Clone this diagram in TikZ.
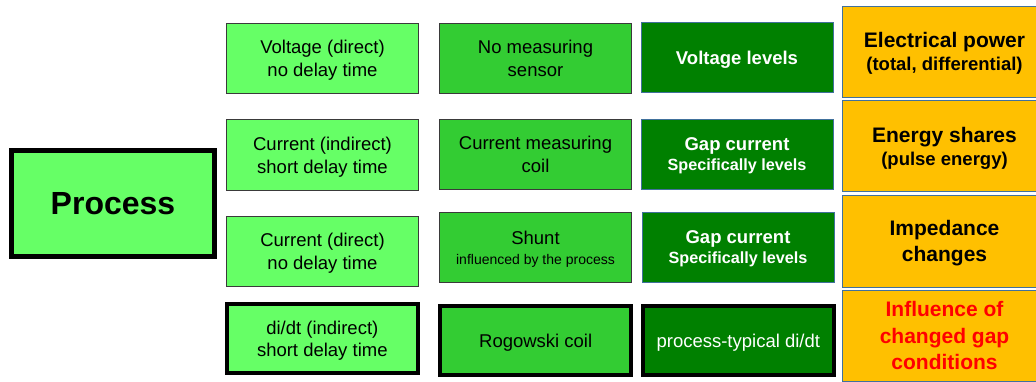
\documentclass[tikz,border=0pt]{standalone}
\usepackage{fontspec}
\setmainfont{Liberation Sans}
\definecolor{lgreen}{HTML}{66FF66}
\definecolor{mgreen}{HTML}{33CC33}
\definecolor{dgreen}{HTML}{008000}
\definecolor{orng}{HTML}{FFC000}
\definecolor{gborder}{HTML}{3A3A3A}
\definecolor{bborder}{HTML}{41719C}
\definecolor{redtxt}{HTML}{FF0000}
\tikzset{
  cell/.style={rectangle, inner sep=0pt, align=center, minimum width=192pt, minimum height=70pt,
    text depth=0pt, font=\fontsize{18.5}{22.7}\selectfont},
  col1/.style={cell, fill=lgreen, draw=gborder, line width=1pt},
  col2/.style={cell, fill=mgreen, draw=gborder, line width=1pt},
  col3/.style={cell, fill=dgreen, draw=bborder, line width=1pt, text=white, font=\fontsize{18.5}{20}\selectfont\bfseries},
  col4/.style={cell, fill=orng, draw=bborder, line width=1pt, minimum width=205pt, minimum height=91pt,
    font=\fontsize{18.5}{23.4}\selectfont\bfseries},
  thick4/.style={draw=black, line width=4pt, minimum width=191pt, minimum height=69pt},
  big/.style={font=\fontsize{21}{26.5}\selectfont\bfseries}
}
\begin{document}
\begin{tikzpicture}[x=1pt,y=-1pt]
\useasboundingbox (0,0) rectangle (1036,381);
% Process
\node[rectangle, fill=lgreen, draw=black, line width=5pt, minimum width=203pt, minimum height=106pt,
  text depth=0pt, font=\fontsize{32}{36}\selectfont\bfseries] (proc) at (113,203.5) {Process};
% column 1
\node[col1] (a1) at (322.5,58.5) {Voltage (direct)\\no delay time};
\node[col1, minimum height=71pt] (a2) at (322.5,155) {Current (indirect)\\short delay time};
\node[col1] (a3) at (322.5,251.5) {Current (direct)\\no delay time};
\node[col1, thick4] (a4) at (322.3,338.7) {di/dt (indirect)\\short delay time};
% column 2
\node[col2] (b1) at (535.5,58.5) {No measuring\\sensor};
\node[col2] (b2) at (535.5,154.5) {Current measuring\\coil};
\node[col2, font=\fontsize{18.5}{20}\selectfont] (b3) at (535.5,247.5) {Shunt\\{\fontsize{14}{16}\selectfont influenced by the process}};
\node[col2, thick4] (b4) at (535.7,340.8) {Rogowski coil};
% column 3
\node[col3] (c1) at (737,57.5) {Voltage levels};
\node[col3] (c2) at (737,154.5) {Gap current\\{\fontsize{16.2}{18}\selectfont Specifically levels}};
\node[col3] (c3) at (738,247.5) {Gap current\\{\fontsize{16.2}{18}\selectfont Specifically levels}};
\node[col3, thick4, font=\fontsize{18.5}{22.7}\selectfont] (c4) at (738.3,340.8) {process-typical di/dt};
% column 4
\node[col4] (d1) at (944.5,51.5) {{\fontsize{21}{24}\selectfont Electrical power}\\(total, differential)};
\node[col4] (d2) at (944.5,146.3) {{\fontsize{21}{24}\selectfont Energy shares}\\(pulse energy)};
\node[col4, big, minimum height=92pt] (d3) at (944.5,241) {Impedance\\changes};
\node[col4, big, text=redtxt] (d4) at (944.5,335.5) {Influence of\\changed gap\\conditions};
\end{tikzpicture}
\end{document}
